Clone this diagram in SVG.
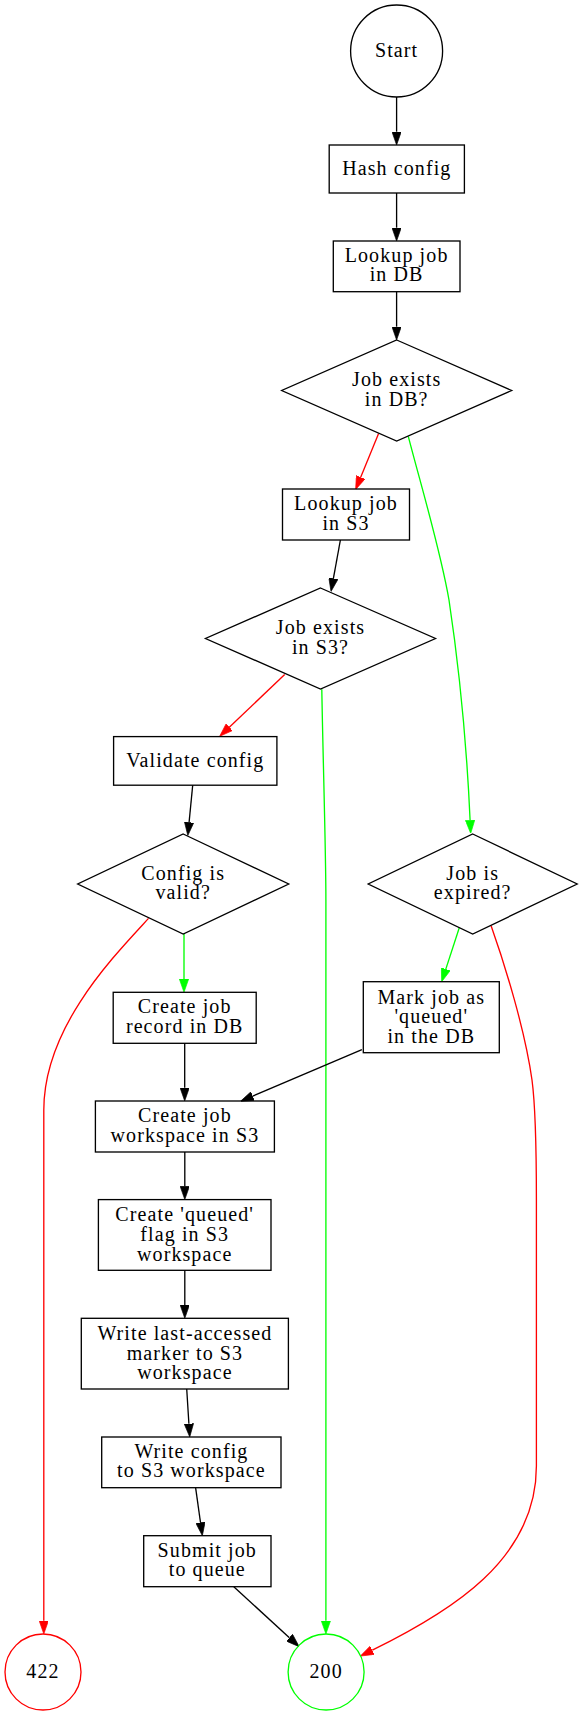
<svg xmlns="http://www.w3.org/2000/svg" width="582" height="1716" viewBox="0 0 582 1716">
<style>
text{font-family:"Liberation Serif","Times New Roman",serif;font-size:20px;letter-spacing:1.1px;text-anchor:middle;fill:#000}
.n{fill:none;stroke:#000;stroke-width:1.33}
.e{fill:none;stroke-width:1.33}
.k{stroke:#000}
.r{stroke:#ff0000}
.g{stroke:#00ff00}
</style>
<defs>
<marker id="ak" viewBox="0 0 10 7" refX="0" refY="3.5" markerWidth="13.3" markerHeight="9.33" markerUnits="userSpaceOnUse" orient="auto"><path d="M0,0 L10,3.5 L0,7 z" fill="#000" stroke="#000" stroke-width="0.5"/></marker>
<marker id="ar" viewBox="0 0 10 7" refX="0" refY="3.5" markerWidth="13.3" markerHeight="9.33" markerUnits="userSpaceOnUse" orient="auto"><path d="M0,0 L10,3.5 L0,7 z" fill="#ff0000" stroke="#ff0000" stroke-width="0.5"/></marker>
<marker id="ag" viewBox="0 0 10 7" refX="0" refY="3.5" markerWidth="13.3" markerHeight="9.33" markerUnits="userSpaceOnUse" orient="auto"><path d="M0,0 L10,3.5 L0,7 z" fill="#00ff00" stroke="#00ff00" stroke-width="0.5"/></marker>
</defs>
<rect width="582" height="1716" fill="#fff"/>
<g id="edges">
<path class="e k" marker-end="url(#ak)" d="M396.6,97 L396.6,131.7"/>
<path class="e k" marker-end="url(#ak)" d="M396.6,193 L396.6,227.7"/>
<path class="e k" marker-end="url(#ak)" d="M396.6,291.7 L396.6,326.7"/>
<path class="e r" marker-end="url(#ar)" d="M378.6,433.6 L360.7,477.2"/>
<path class="e k" marker-end="url(#ak)" d="M340.4,540 L333.4,578.4"/>
<path class="e g" marker-end="url(#ag)" d="M408.3,436.3 C420,482 440,548 449,600 C458,660 466.5,740 470.1,820.2"/>
<path class="e r" marker-end="url(#ar)" d="M284.7,674.6 L229.3,727.2"/>
<path class="e g" marker-end="url(#ag)" d="M321.8,689.2 C323,760 325.9,850 325.9,900 L325.9,1620.7"/>
<path class="e k" marker-end="url(#ak)" d="M192.7,785.2 L189.1,822.3"/>
<path class="e g" marker-end="url(#ag)" d="M184,934 L184,979"/>
<path class="e r" marker-end="url(#ar)" d="M148.5,918.4 C112,958 43.8,1028 43.8,1110 L43.8,1620.7"/>
<path class="e g" marker-end="url(#ag)" d="M459.2,928 L445.8,969.1"/>
<path class="e r" marker-end="url(#ar)" d="M491.1,925.7 C505,965 525,1030 532,1080 C536,1110 536.4,1150 536.4,1200 L536.4,1466 C536.4,1560 450,1612 372.3,1650.2"/>
<path class="e k" marker-end="url(#ak)" d="M361.9,1049.7 L252.7,1096.1"/>
<path class="e k" marker-end="url(#ak)" d="M184.7,1043.2 L184.7,1087.7"/>
<path class="e k" marker-end="url(#ak)" d="M184.8,1152 L184.8,1186.3"/>
<path class="e k" marker-end="url(#ak)" d="M184.8,1270.3 L184.8,1305"/>
<path class="e k" marker-end="url(#ak)" d="M186.7,1389 L188.9,1423.7"/>
<path class="e k" marker-end="url(#ak)" d="M195.6,1487.7 L200.5,1522.5"/>
<path class="e k" marker-end="url(#ak)" d="M233.8,1586.7 L289.4,1637.7"/>
</g>
<g id="start"><circle class="n" cx="396.6" cy="51" r="46"/><text x="396.6" y="57">Start</text></g>
<g id="hash"><rect class="n" x="329.2" y="145" width="135.2" height="48"/><text x="396.8" y="175">Hash config</text></g>
<g id="lookup_db"><rect class="n" x="333.3" y="241" width="126.7" height="50.7"/><text x="396.6" y="261.8">Lookup job</text><text x="396.6" y="281.4">in DB</text></g>
<g id="exists_db"><polygon class="n" points="396.7,340 511.7,390.5 396.7,441 281.7,390.5"/><text x="396.7" y="386">Job exists</text><text x="396.7" y="405.6">in DB?</text></g>
<g id="lookup_s3"><rect class="n" x="282.5" y="489" width="127" height="51"/><text x="346" y="510">Lookup job</text><text x="346" y="529.6">in S3</text></g>
<g id="exists_s3"><polygon class="n" points="320.5,588 435.5,638.5 320.5,689 205.5,638.5"/><text x="320.5" y="634">Job exists</text><text x="320.5" y="653.6">in S3?</text></g>
<g id="validate"><rect class="n" x="113.6" y="736.6" width="163.3" height="48.6"/><text x="195.3" y="766.5">Validate config</text></g>
<g id="valid"><polygon class="n" points="183.2,834 288.7,884 183.2,934 77.7,884"/><text x="183.2" y="879.5">Config is</text><text x="183.2" y="899.1">valid?</text></g>
<g id="expired"><polygon class="n" points="472.7,834 577.2,884 472.7,934 368.2,884"/><text x="472.7" y="879.5">Job is</text><text x="472.7" y="899.1">expired?</text></g>
<g id="create_record"><rect class="n" x="113.2" y="992.3" width="143" height="51"/><text x="184.7" y="1013.3">Create job</text><text x="184.7" y="1032.9">record in DB</text></g>
<g id="mark_queued"><rect class="n" x="363.3" y="981.7" width="136" height="71"/><text x="431.3" y="1003.5">Mark job as</text><text x="431.3" y="1023.1">'queued'</text><text x="431.3" y="1042.7">in the DB</text></g>
<g id="workspace"><rect class="n" x="95.4" y="1101" width="179" height="51"/><text x="184.9" y="1122">Create job</text><text x="184.9" y="1141.6">workspace in S3</text></g>
<g id="flag"><rect class="n" x="98.4" y="1199.6" width="172.6" height="70.7"/><text x="184.7" y="1221.3">Create 'queued'</text><text x="184.7" y="1240.9">flag in S3</text><text x="184.7" y="1260.5">workspace</text></g>
<g id="last_accessed"><rect class="n" x="81.3" y="1318.3" width="207.1" height="70.7"/><text x="184.9" y="1340">Write last-accessed</text><text x="184.9" y="1359.6">marker to S3</text><text x="184.9" y="1379.2">workspace</text></g>
<g id="write_config"><rect class="n" x="101.7" y="1437" width="179.3" height="50.7"/><text x="191.4" y="1457.8">Write config</text><text x="191.4" y="1477.4">to S3 workspace</text></g>
<g id="submit"><rect class="n" x="143.7" y="1535.7" width="127.3" height="51"/><text x="207.3" y="1556.7">Submit job</text><text x="207.3" y="1576.3">to queue</text></g>
<g id="r422"><circle cx="43" cy="1672" r="38" fill="none" stroke="#ff0000" stroke-width="1.33"/><text x="43" y="1678">422</text></g>
<g id="r200"><circle cx="326.1" cy="1672" r="38" fill="none" stroke="#00ff00" stroke-width="1.33"/><text x="326.1" y="1678">200</text></g>
</svg>
